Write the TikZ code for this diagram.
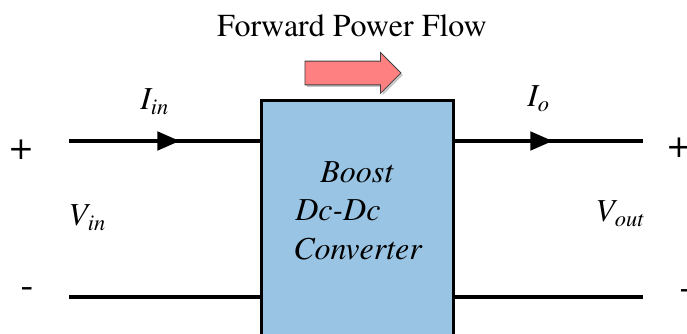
\documentclass[tikz,border=0pt]{standalone}
\usepackage[T1]{fontenc}
\renewcommand{\rmdefault}{ptm}
\usepackage{tikz}
\usetikzlibrary{positioning,calc,arrows.meta,shapes.arrows,shadows}
\definecolor{convblue}{RGB}{153,196,228}
\definecolor{flowred}{RGB}{255,128,128}

\begin{document}
\begin{tikzpicture}[x=0.75pt,y=-0.75pt,
		wire/.style={line width=2.3pt},
		curarrow/.style={line width=3.6pt,-{Triangle[length=17pt,width=13.5pt]}},
		lbl/.style={font=\rmfamily\fontsize{24}{28}\selectfont,inner sep=0pt},
		sgn/.style={font=\rmfamily\fontsize{29}{32}\selectfont,inner sep=0pt},
		convbox/.style={fill=convblue,draw=black,line width=2.2pt,minimum width=144pt,minimum height=184pt,inner sep=0pt},
		flowarrow/.style={single arrow,fill=flowred,draw=black!75,line width=0.6pt,minimum height=72pt,inner sep=8.6pt,single arrow head extend=6.4pt,drop shadow={shadow xshift=1.5pt,shadow yshift=-1.5pt,fill=black!45}}]
		\clip (0,0) rectangle (687,334);
		\useasboundingbox (0,0) rectangle (687,334);

		% terminals
		\coordinate (inp) at (69,141);
		\coordinate (inn) at (69,297);
		\coordinate (outp) at (643,141);
		\coordinate (outn) at (643,297);

		% converter block
		\node[convbox] (conv) at (357.5,223) {};
		\node[lbl,anchor=base west] (l1) at (320,183) {\itshape Boost};
		\node[lbl,anchor=base west] (l2) at (295,221) {\itshape Dc-Dc};
		\node[lbl,anchor=base west] (l3) at (293,260) {\itshape Converter};

		% wires
		\draw[wire] (inp) -- (inp -| conv.west);
		\draw[wire] (inn) -- (inn -| conv.west);
		\draw[wire] (outp -| conv.east) -- (outp);
		\draw[wire] (outn -| conv.east) -- (outn);

		% current arrows
		\coordinate (iina) at (137,141);
		\coordinate (iinb) at (180,141);
		\coordinate (ioa) at (510,141);
		\coordinate (iob) at (553,141);
		\draw[curarrow] (iina) -- (iinb);
		\draw[curarrow] (ioa) -- (iob);

		% power flow
		\node[flowarrow] (flow) at (347,73) {};
		\node[lbl,anchor=base] (flowtxt) at (352,37) {Forward Power Flow};

		% labels
		\node[lbl,anchor=base west] (iin) at (140,110) {\itshape I\textsubscript{in}};
		\node[lbl,anchor=base west] (io) at (527,107) {\itshape I\textsubscript{o}};
		\node[lbl,anchor=base west] (vin) at (68,226) {\itshape V\textsubscript{in}};
		\node[lbl,anchor=base west] (vout) at (595,222) {\itshape V\textsubscript{out}};
		\node[sgn] (pin) at (21,150) {+};
		\node[sgn] (pout) at (679,148) {+};
		\node[sgn] (nin) at (27,293) {-};
		\node[sgn] (nout) at (686,295) {-};
	\end{tikzpicture}
\end{document}
